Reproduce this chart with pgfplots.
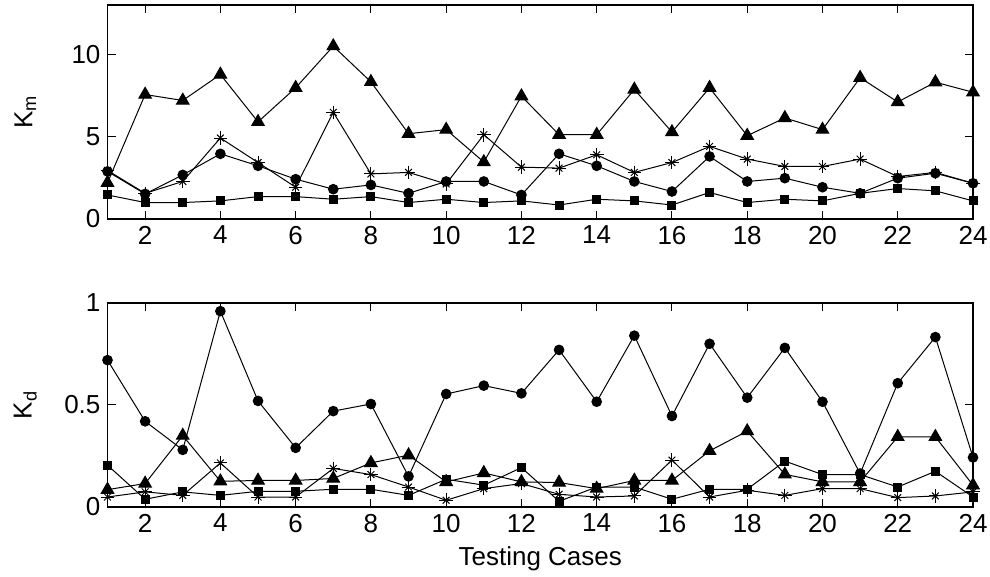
\documentclass[border=0pt]{standalone}
\usepackage{fontspec}
\setmainfont{Liberation Sans}
\usepackage{pgfplots}
\usepackage{pgfplotstable}
\pgfplotsset{compat=1.18}
\pgfplotstableread{
x tri star circ sq
1 2.2 2.95 2.89 1.46
2 7.56 1.56 1.52 1.0
3 7.2 2.28 2.68 1.0
4 8.78 4.92 3.96 1.10
5 5.9 3.43 3.23 1.36
6 7.97 1.93 2.42 1.36
7 10.5 6.48 1.81 1.2
8 8.33 2.74 2.07 1.36
9 5.18 2.83 1.56 1.0
10 5.43 2.13 2.28 1.2
11 3.46 5.12 2.28 1.0
12 7.46 3.15 1.46 1.1
13 5.12 3.09 3.96 0.85
14 5.12 3.90 3.23 1.2
15 7.87 2.83 2.28 1.1
16 5.28 3.43 1.67 0.85
17 7.97 4.41 3.80 1.61
18 5.06 3.64 2.28 1.0
19 6.14 3.19 2.48 1.2
20 5.43 3.19 1.93 1.1
21 8.58 3.64 1.56 1.56
22 7.11 2.58 2.48 1.85
23 8.31 2.83 2.78 1.71
24 7.70 2.17 2.17 1.1
}\km
\pgfplotstableread{
x tri star circ sq
1 0.085 0.049 0.72 0.205
2 0.115 0.074 0.42 0.038
3 0.35 0.057 0.28 0.074
4 0.126 0.216 0.96 0.057
5 0.13 0.049 0.52 0.077
6 0.13 0.049 0.29 0.077
7 0.14 0.189 0.47 0.087
8 0.216 0.159 0.505 0.087
9 0.254 0.098 0.15 0.057
10 0.123 0.033 0.554 0.136
11 0.167 0.09 0.595 0.107
12 0.123 0.115 0.557 0.193
13 0.12 0.062 0.77 0.028
14 0.09 0.049 0.516 0.098
15 0.13 0.054 0.84 0.098
16 0.13 0.23 0.446 0.038
17 0.275 0.049 0.80 0.087
18 0.372 0.082 0.536 0.087
19 0.16 0.057 0.78 0.225
20 0.123 0.09 0.516 0.159
21 0.123 0.09 0.164 0.159
22 0.344 0.046 0.607 0.098
23 0.344 0.054 0.833 0.175
24 0.107 0.074 0.243 0.049
}\kd
\pgfplotsset{
  myax/.style={
    scale only axis, width=432.75pt,
    xmin=1, xmax=24, xtick={2,4,...,24},
    axis line style={line width=0.6pt},
    major tick length=4pt,
    tick style={line width=0.5pt, black},
    tick label style={font=\fontsize{13}{15}\selectfont},
    label style={font=\fontsize{13}{15}\selectfont},
    /pgf/number format/assume math mode=true,
    clip=false,
    y label style={at={(axis description cs:-0.095,0.5)}, anchor=center},
    every axis plot/.append style={black, line width=0.5pt},
  },
  tri/.style={mark=triangle*, mark size=3.6pt},
  cir/.style={mark=*, mark size=2.4pt},
  sqr/.style={mark=square*, mark size=2pt},
  plu/.style={mark=+, mark size=3.4pt},
  crs/.style={only marks, mark=x, mark size=2.4pt},
}
\begin{document}
\begin{tikzpicture}
\begin{axis}[myax, name=top, height=107pt, ymin=0, ymax=13, ytick={0,5,10},
  ylabel={K\textsubscript{m}}]
\addplot[tri] table[x=x,y=tri]{\km};
\addplot[plu] table[x=x,y=star]{\km};
\addplot[crs] table[x=x,y=star]{\km};
\addplot[cir] table[x=x,y=circ]{\km};
\addplot[sqr] table[x=x,y=sq]{\km};
\end{axis}
\begin{axis}[myax, at={(0,-42pt)}, anchor=north west, height=102pt, ymin=0, ymax=1, ytick={0,0.5,1},
  ylabel={K\textsubscript{d}}, xlabel={Testing Cases}]
\addplot[tri] table[x=x,y=tri]{\kd};
\addplot[plu] table[x=x,y=star]{\kd};
\addplot[crs] table[x=x,y=star]{\kd};
\addplot[cir] table[x=x,y=circ]{\kd};
\addplot[sqr] table[x=x,y=sq]{\kd};
\end{axis}
\pgfresetboundingbox
\path (-53.75pt,-179pt) rectangle (441.25pt,109.5pt);
\end{tikzpicture}
\end{document}
